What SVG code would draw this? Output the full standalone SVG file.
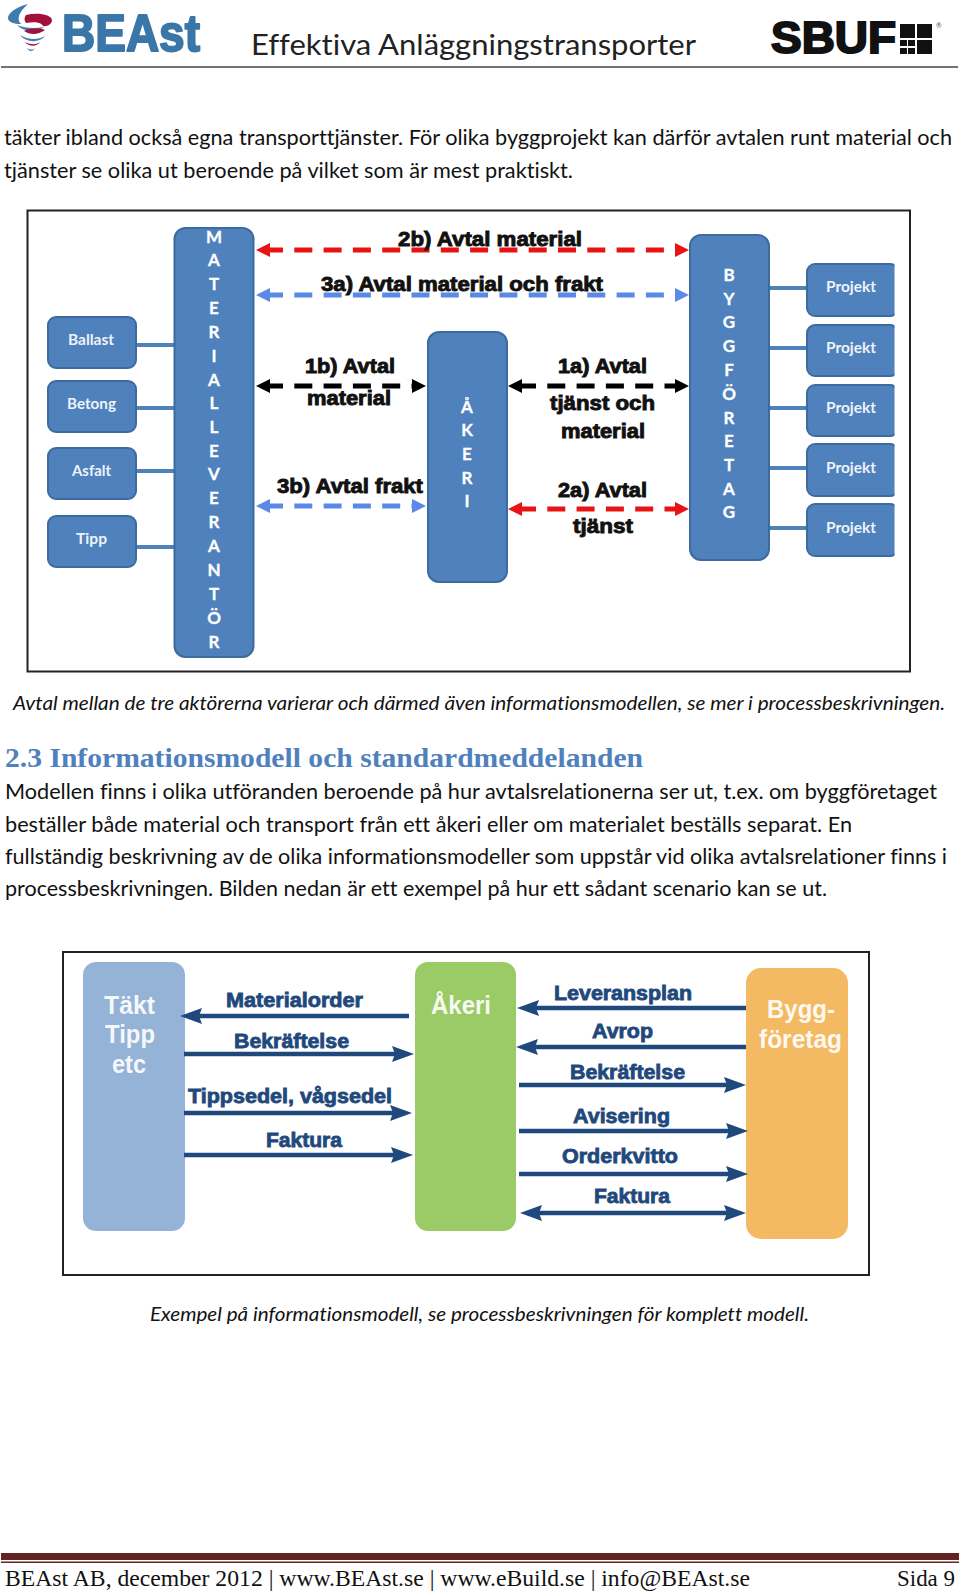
<svg xmlns="http://www.w3.org/2000/svg" width="960" height="1592" viewBox="0 0 960 1592">
<style>
text{font-family:"Lato","Open Sans",sans-serif;font-variant-ligatures:none}
.body{font-size:21px;fill:#111}
.it{font-size:19.5px;font-style:italic;fill:#111}
.serif{font-family:"Liberation Serif","DejaVu Serif",serif}
.frame{fill:#fff;stroke:#222;stroke-width:2}
.blue{fill:#4f81bd;stroke:#3d6a9f;stroke-width:2}
.let{font-size:17px;font-weight:700;fill:#fff;stroke:#fff;stroke-width:.3;text-anchor:middle}
.small{font-size:15.5px;font-weight:700;fill:#eef3f9}
.link{stroke:#4f81bd;stroke-width:4;fill:none}
.dash{stroke-width:5;fill:none;stroke-dasharray:18 11.3}
.lab{font-family:"Liberation Sans",Arial,sans-serif;font-size:20.5px;font-weight:700;fill:#111;stroke:#111;stroke-width:.9}
.lab2{font-family:"Liberation Sans",Arial,sans-serif;font-size:20px;font-weight:700;fill:#1f497d;stroke:#1f497d;stroke-width:.8}
.flow{stroke:#1f497d;stroke-width:4.500;fill:none}
.big{font-family:"Liberation Sans",Arial,sans-serif;font-size:25px;font-weight:700;fill:#fff;fill-opacity:.93}
</style>
<defs>
<marker id="mr" markerUnits="userSpaceOnUse" markerWidth="16" markerHeight="16" refX="1" refY="8" orient="auto-start-reverse"><path d="M0 1 L14 8 L0 15 Z" fill="#e81313"/></marker>
<marker id="mb" markerUnits="userSpaceOnUse" markerWidth="16" markerHeight="16" refX="1" refY="8" orient="auto-start-reverse"><path d="M0 1 L14 8 L0 15 Z" fill="#5a8ae6"/></marker>
<marker id="mk" markerUnits="userSpaceOnUse" markerWidth="16" markerHeight="16" refX="1" refY="8" orient="auto-start-reverse"><path d="M0 1 L14 8 L0 15 Z" fill="#000"/></marker>
<marker id="mf" markerUnits="userSpaceOnUse" markerWidth="24" markerHeight="18" refX="3" refY="9" orient="auto-start-reverse"><path d="M0 1 L22 9 L0 17 L3 9 Z" fill="#1f497d"/></marker>
<clipPath id="pclip"><rect x="800" y="255" width="94.500" height="310"/></clipPath>
</defs>
<rect width="960" height="1592" fill="#fff"/>

<g id="header">
<g id="beast-logo">
<path d="M28 4 C16 7 8 13 8 18 C8 22 14 24 21 24 C16 19 19 12 28 4 Z" fill="#3f7cae"/>
<path d="M26 15 C38 12 52 15 52 20 C52 24 47 27 43 26 C42 23 36 21 26 23 C24 20 24 18 26 15 Z" fill="#a3123a"/>
<path d="M17 25 C24 28 34 29 44 27 C38 32 25 33 17 25 Z" fill="#3f7cae"/>
<path d="M24 31 C30 28 40 28 45 30 C38 35 30 35 24 31 Z" fill="#a3123a"/>
<path d="M20 35 C28 40 38 40 45 36 C40 43 26 43 20 35 Z" fill="#3f7cae"/>
<path d="M25 42 C31 45 36 45 40 42 C37 47 29 47 25 42 Z" fill="#a3123a"/>
<path d="M27 48 C30 50 33 50 35 48 C33 52 29 52 27 48 Z" fill="#3f7cae"/>
<text x="62" y="51" font-size="52" font-weight="700" textLength="138" lengthAdjust="spacingAndGlyphs" style="font-family:'Liberation Sans',Arial,sans-serif;stroke-linejoin:round" fill="#3a76a8" stroke="#3a76a8" stroke-width="2">BEAst</text>
</g>
<text x="251" y="55" font-size="29" fill="#222" textLength="445" lengthAdjust="spacingAndGlyphs">Effektiva Anläggningstransporter</text>
<g id="sbuf-logo">
<text x="771" y="53" font-size="44" font-weight="700" textLength="125" lengthAdjust="spacingAndGlyphs" fill="#111" stroke="#111" stroke-width="2" style="font-family:'Liberation Sans',Arial,sans-serif">SBUF</text>
<path d="M900 24H915V38H900ZM917 24H932V38H917ZM917 40H932V54H917ZM900 40H907V46H900ZM908 40H915V46H908ZM900 48H907V54H900ZM908 48H915V54H908Z" fill="#111"/>
<text x="936" y="28" font-size="7" fill="#555">®</text>
</g>
<line x1="1" y1="67" x2="958" y2="67" stroke="#444" stroke-width="1.500"/>
</g>

<g id="paragraph-1">
<text class="body" x="4" y="145" textLength="948" lengthAdjust="spacingAndGlyphs">täkter ibland också egna transporttjänster. För olika byggprojekt kan därför avtalen runt material och</text>
<text class="body" x="4" y="178" textLength="569" lengthAdjust="spacingAndGlyphs">tjänster se olika ut beroende på vilket som är mest praktiskt.</text>
</g>

<rect class="frame" x="27.500" y="210.500" width="882.500" height="461"/>

<g id="connectors-1">
<line class="link" x1="136" y1="345" x2="174" y2="345"/>
<line class="link" x1="136" y1="408" x2="174" y2="408"/>
<line class="link" x1="136" y1="471" x2="174" y2="471"/>
<line class="link" x1="136" y1="547" x2="174" y2="547"/>
<line class="link" x1="769" y1="288" x2="807" y2="288"/>
<line class="link" x1="769" y1="348" x2="807" y2="348"/>
<line class="link" x1="769" y1="408" x2="807" y2="408"/>
<line class="link" x1="769" y1="468" x2="807" y2="468"/>
<line class="link" x1="769" y1="528" x2="807" y2="528"/>
<line class="dash" x1="269" y1="250" x2="676" y2="250" stroke="#e81313" stroke-dashoffset="4" marker-start="url(#mr)" marker-end="url(#mr)"/>
<line class="dash" x1="269" y1="295" x2="676" y2="295" stroke="#5a8ae6" stroke-dashoffset="4" marker-start="url(#mb)" marker-end="url(#mb)"/>
<line class="dash" x1="269" y1="386" x2="413" y2="386" stroke="#000" stroke-dashoffset="4" marker-start="url(#mk)" marker-end="url(#mk)"/>
<line class="dash" x1="269" y1="506" x2="413" y2="506" stroke="#5a8ae6" stroke-dashoffset="4" marker-start="url(#mb)" marker-end="url(#mb)"/>
<line class="dash" x1="521" y1="386" x2="676" y2="386" stroke="#000" stroke-dashoffset="3" marker-start="url(#mk)" marker-end="url(#mk)"/>
<line class="dash" x1="521" y1="509" x2="676" y2="509" stroke="#e81313" stroke-dashoffset="3" marker-start="url(#mr)" marker-end="url(#mr)"/>
</g>

<g id="ballast"><rect class="blue" x="48" y="317" width="88" height="51" rx="8"/><text class="small" x="68" y="345" textLength="46" lengthAdjust="spacingAndGlyphs">Ballast</text></g>
<g id="betong"><rect class="blue" x="48" y="381" width="88" height="51" rx="8"/><text class="small" x="67" y="409" textLength="49" lengthAdjust="spacingAndGlyphs">Betong</text></g>
<g id="asfalt"><rect class="blue" x="48" y="448" width="88" height="51" rx="8"/><text class="small" x="72" y="476" textLength="39" lengthAdjust="spacingAndGlyphs">Asfalt</text></g>
<g id="tipp"><rect class="blue" x="48" y="516" width="88" height="51" rx="8"/><text class="small" x="76" y="544" textLength="31" lengthAdjust="spacingAndGlyphs">Tipp</text></g>

<g id="materialleverantor"><rect class="blue" x="174.500" y="228" width="79" height="429" rx="11"/>
<text class="let" x="214" y="243">M</text><text class="let" x="214" y="266">A</text><text class="let" x="214" y="290">T</text><text class="let" x="214" y="314">E</text><text class="let" x="214" y="338">R</text><text class="let" x="214" y="362">I</text><text class="let" x="214" y="386">A</text><text class="let" x="214" y="409">L</text><text class="let" x="214" y="433">L</text><text class="let" x="214" y="457">E</text><text class="let" x="214" y="480">V</text><text class="let" x="214" y="504">E</text><text class="let" x="214" y="528">R</text><text class="let" x="214" y="552">A</text><text class="let" x="214" y="576">N</text><text class="let" x="214" y="600">T</text><text class="let" x="214" y="624">Ö</text><text class="let" x="214" y="648">R</text></g>

<g id="akeri-1"><rect class="blue" x="428" y="332" width="79" height="250" rx="11"/>
<text class="let" x="467" y="413">Å</text><text class="let" x="467" y="436">K</text><text class="let" x="467" y="460">E</text><text class="let" x="467" y="484">R</text><text class="let" x="467" y="507">I</text></g>

<g id="byggforetag-1"><rect class="blue" x="690" y="235" width="79" height="325" rx="11"/>
<text class="let" x="729" y="281">B</text><text class="let" x="729" y="305">Y</text><text class="let" x="729" y="328">G</text><text class="let" x="729" y="352">G</text><text class="let" x="729" y="376">F</text><text class="let" x="729" y="400">Ö</text><text class="let" x="729" y="424">R</text><text class="let" x="729" y="447">E</text><text class="let" x="729" y="471">T</text><text class="let" x="729" y="495">A</text><text class="let" x="729" y="518">G</text></g>

<g id="projekt-1"><rect class="blue" clip-path="url(#pclip)" x="807" y="264" width="91" height="52" rx="8"/><text class="small" x="826" y="292" textLength="50" lengthAdjust="spacingAndGlyphs">Projekt</text></g>
<g id="projekt-2"><rect class="blue" clip-path="url(#pclip)" x="807" y="325" width="91" height="51" rx="8"/><text class="small" x="826" y="353" textLength="50" lengthAdjust="spacingAndGlyphs">Projekt</text></g>
<g id="projekt-3"><rect class="blue" clip-path="url(#pclip)" x="807" y="385" width="91" height="51" rx="8"/><text class="small" x="826" y="413" textLength="50" lengthAdjust="spacingAndGlyphs">Projekt</text></g>
<g id="projekt-4"><rect class="blue" clip-path="url(#pclip)" x="807" y="444" width="91" height="52" rx="8"/><text class="small" x="826" y="473" textLength="50" lengthAdjust="spacingAndGlyphs">Projekt</text></g>
<g id="projekt-5"><rect class="blue" clip-path="url(#pclip)" x="807" y="504" width="91" height="52" rx="8"/><text class="small" x="826" y="533" textLength="50" lengthAdjust="spacingAndGlyphs">Projekt</text></g>

<g id="labels-1">
<text class="lab" x="398" y="246" textLength="184" lengthAdjust="spacingAndGlyphs">2b) Avtal material</text>
<text class="lab" x="321" y="291" textLength="282" lengthAdjust="spacingAndGlyphs">3a) Avtal material och frakt</text>
<text class="lab" x="305" y="373" textLength="90" lengthAdjust="spacingAndGlyphs">1b) Avtal</text>
<text class="lab" x="307" y="405" textLength="84" lengthAdjust="spacingAndGlyphs">material</text>
<text class="lab" x="277" y="493" textLength="146" lengthAdjust="spacingAndGlyphs">3b) Avtal frakt</text>
<text class="lab" x="558" y="373" textLength="89" lengthAdjust="spacingAndGlyphs">1a) Avtal</text>
<text class="lab" x="550" y="410" textLength="105" lengthAdjust="spacingAndGlyphs">tjänst och</text>
<text class="lab" x="561" y="438" textLength="84" lengthAdjust="spacingAndGlyphs">material</text>
<text class="lab" x="558" y="497" textLength="89" lengthAdjust="spacingAndGlyphs">2a) Avtal</text>
<text class="lab" x="573" y="533" textLength="60" lengthAdjust="spacingAndGlyphs">tjänst</text>
</g>

<text class="it" x="13" y="710" textLength="932" lengthAdjust="spacingAndGlyphs">Avtal mellan de tre aktörerna varierar och därmed även informationsmodellen, se mer i processbeskrivningen.</text>
<text class="serif" x="5" y="767" font-size="27" font-weight="700" fill="#4f81bd" textLength="638" lengthAdjust="spacingAndGlyphs">2.3 Informationsmodell och standardmeddelanden</text>

<g id="paragraph-2">
<text class="body" x="5" y="799" textLength="932" lengthAdjust="spacingAndGlyphs">Modellen finns i olika utföranden beroende på hur avtalsrelationerna ser ut, t.ex. om byggföretaget</text>
<text class="body" x="5" y="832" textLength="847" lengthAdjust="spacingAndGlyphs">beställer både material och transport från ett åkeri eller om materialet beställs separat. En</text>
<text class="body" x="5" y="864" textLength="942" lengthAdjust="spacingAndGlyphs">fullständig beskrivning av de olika informationsmodeller som uppstår vid olika avtalsrelationer finns i</text>
<text class="body" x="5" y="896" textLength="822" lengthAdjust="spacingAndGlyphs">processbeskrivningen. Bilden nedan är ett exempel på hur ett sådant scenario kan se ut.</text>
</g>

<rect class="frame" x="63" y="952" width="806" height="323"/>

<g id="takt"><rect x="83" y="962" width="102" height="269" rx="13" fill="#95b3d7"/>
<text class="big" x="104" y="1014" textLength="51" lengthAdjust="spacingAndGlyphs">Täkt</text>
<text class="big" x="105" y="1043" textLength="50" lengthAdjust="spacingAndGlyphs">Tipp</text>
<text class="big" x="112" y="1073" textLength="34" lengthAdjust="spacingAndGlyphs">etc</text></g>
<g id="akeri-2"><rect x="415" y="962" width="101" height="269" rx="13" fill="#9bcb67"/>
<text class="big" x="431" y="1014" textLength="60" lengthAdjust="spacingAndGlyphs">Åkeri</text></g>
<g id="byggforetag-2"><rect x="746" y="968" width="102" height="271" rx="15" fill="#f4b963"/>
<text class="big" x="767" y="1018" textLength="68" lengthAdjust="spacingAndGlyphs">Bygg-</text>
<text class="big" x="759" y="1048" textLength="83" lengthAdjust="spacingAndGlyphs">företag</text></g>

<g id="connectors-2">
<line class="flow" x1="409" y1="1016" x2="199" y2="1016" marker-end="url(#mf)"/>
<line class="flow" x1="184" y1="1054" x2="395" y2="1054" marker-end="url(#mf)"/>
<line class="flow" x1="184" y1="1113" x2="393" y2="1113" marker-end="url(#mf)"/>
<line class="flow" x1="184" y1="1155" x2="394" y2="1155" marker-end="url(#mf)"/>
<line class="flow" x1="746" y1="1008" x2="536" y2="1008" marker-end="url(#mf)"/>
<line class="flow" x1="746" y1="1047" x2="535" y2="1047" marker-end="url(#mf)"/>
<line class="flow" x1="519" y1="1085" x2="727" y2="1085" marker-end="url(#mf)"/>
<line class="flow" x1="519" y1="1131" x2="729" y2="1131" marker-end="url(#mf)"/>
<line class="flow" x1="519" y1="1174" x2="729" y2="1174" marker-end="url(#mf)"/>
<line class="flow" x1="539" y1="1213" x2="727" y2="1213" marker-start="url(#mf)" marker-end="url(#mf)"/>
</g>

<g id="labels-2">
<text class="lab2" x="226" y="1007" textLength="137" lengthAdjust="spacingAndGlyphs">Materialorder</text>
<text class="lab2" x="234" y="1048" textLength="115" lengthAdjust="spacingAndGlyphs">Bekräftelse</text>
<text class="lab2" x="188" y="1103" textLength="204" lengthAdjust="spacingAndGlyphs">Tippsedel, vågsedel</text>
<text class="lab2" x="266" y="1147" textLength="76" lengthAdjust="spacingAndGlyphs">Faktura</text>
<text class="lab2" x="554" y="1000" textLength="138" lengthAdjust="spacingAndGlyphs">Leveransplan</text>
<text class="lab2" x="592" y="1038" textLength="61" lengthAdjust="spacingAndGlyphs">Avrop</text>
<text class="lab2" x="570" y="1079" textLength="115" lengthAdjust="spacingAndGlyphs">Bekräftelse</text>
<text class="lab2" x="573" y="1123" textLength="97" lengthAdjust="spacingAndGlyphs">Avisering</text>
<text class="lab2" x="562" y="1163" textLength="116" lengthAdjust="spacingAndGlyphs">Orderkvitto</text>
<text class="lab2" x="594" y="1203" textLength="76" lengthAdjust="spacingAndGlyphs">Faktura</text>
</g>

<text class="it" x="150" y="1321" textLength="659" lengthAdjust="spacingAndGlyphs">Exempel på informationsmodell, se processbeskrivningen för komplett modell.</text>

<g id="footer">
<rect x="1" y="1553" width="958" height="7" fill="#622423"/>
<rect x="1" y="1561.500" width="958" height="1.500" fill="#622423"/>
<text class="serif" x="5" y="1586" font-size="23.500" fill="#111" textLength="745" lengthAdjust="spacingAndGlyphs">BEAst AB, december 2012 | www.BEAst.se | www.eBuild.se | info@BEAst.se</text>
<text class="serif" x="897" y="1586" font-size="23.500" fill="#111" textLength="58" lengthAdjust="spacingAndGlyphs">Sida 9</text>
</g>
</svg>
